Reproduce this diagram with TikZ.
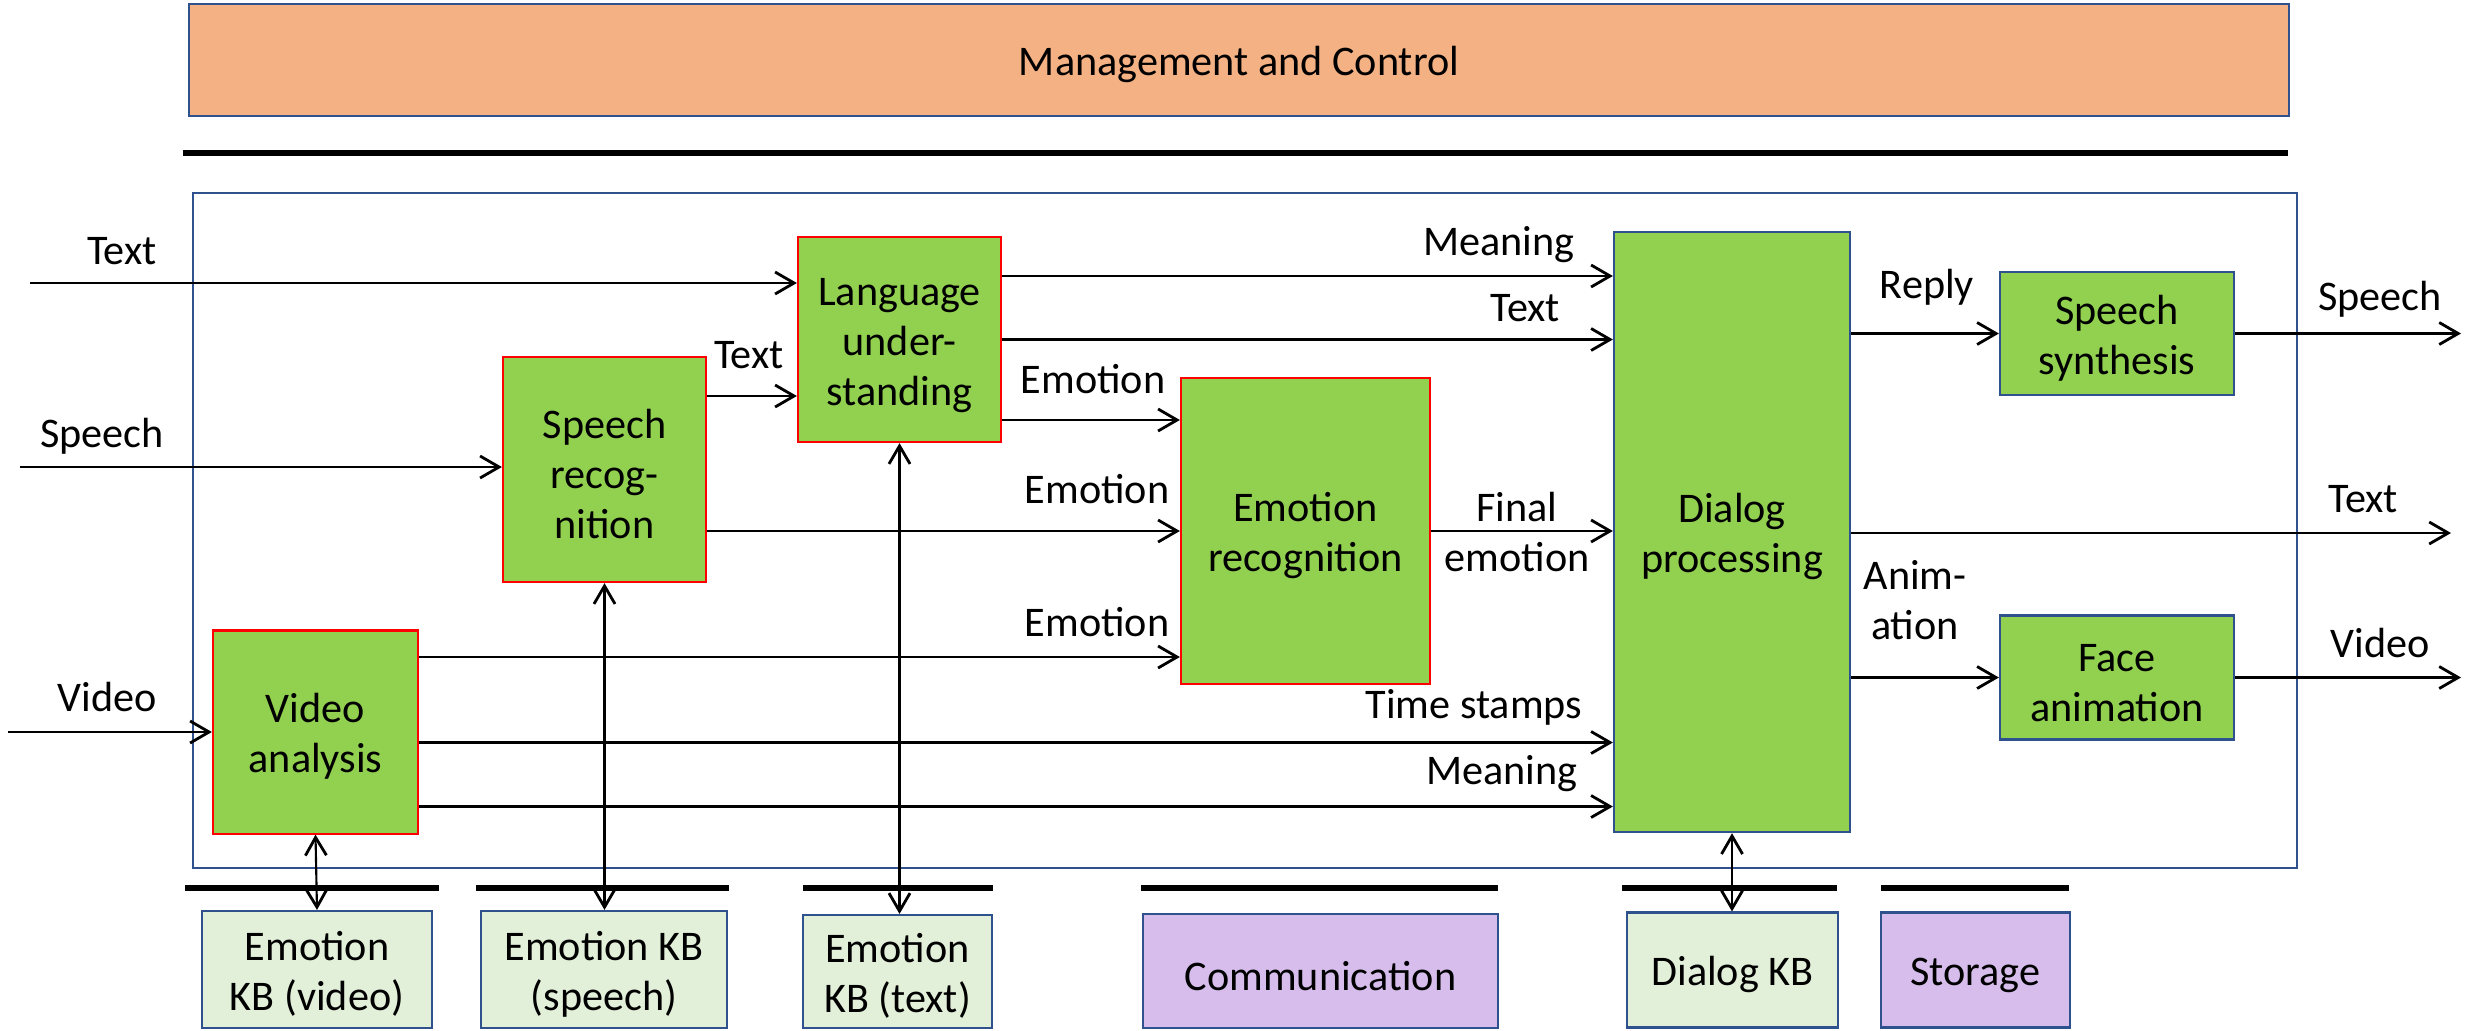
\documentclass[tikz,border=0pt]{standalone}
\usepackage{fontspec}
\setmainfont{Carlito}
\usetikzlibrary{arrows.meta}
\definecolor{boxgreen}{HTML}{92D050}
\definecolor{kbgreen}{HTML}{E2F0D9}
\definecolor{mgmtorange}{HTML}{F4B183}
\definecolor{svcpurple}{RGB}{215,189,236}
\definecolor{edgeblue}{RGB}{47,82,143}
\begin{document}
\begin{tikzpicture}[x=0.01cm,y=-0.01cm,
        font=\fontsize{12}{14.2}\selectfont,
        box/.style={draw=edgeblue,line width=0.6pt,fill=boxgreen,align=center,inner sep=0pt},
        redbox/.style={box,draw=red},
        kb/.style={box,fill=kbgreen},
        svc/.style={box,fill=svcpurple},
        oneline/.style={text height=11pt},
        twolines/.style={text height=25.2pt},
        threelines/.style={text height=39.4pt},
        flow/.style={line width=0.8pt,-{Straight Barb[length=1.9mm,width=2.2mm]}},
        link/.style={line width=0.6pt,{Straight Barb[length=1.8mm,width=2.1mm,line width=0.8pt]}-{Straight Barb[length=1.8mm,width=2.1mm,line width=0.8pt]}},
        bar/.style={line width=1.55pt},
        lbl/.style={inner sep=0pt,align=center}]
        \useasboundingbox (0,0) rectangle (2476,1030);
        \node[box,oneline,fill=mgmtorange,minimum width=20.98cm,minimum height=1.12cm] (mgmt) at (1239,60) {Management and Control};
        \draw[bar] (183,153) -- (2288,153);
        \draw[edgeblue,line width=0.6pt] (193,193) rectangle (2297,868);
        \node[redbox,threelines,minimum width=2.03cm,minimum height=2.05cm] (lang) at (899.5,339.5) {Language\\under-\\standing};
        \node[redbox,threelines,minimum width=2.03cm,minimum height=2.25cm] (srec) at (604.5,469.5) {Speech\\recog-\\nition};
        \node[redbox,twolines,minimum width=2.05cm,minimum height=2.03cm] (video) at (315.5,732) {Video\\analysis};
        \node[redbox,twolines,minimum width=2.49cm,minimum height=3.06cm] (erec) at (1305.5,531) {Emotion\\recognition};
        \node[box,twolines,minimum width=2.36cm,minimum height=6.00cm] (dialog) at (1732,532) {Dialog\\processing};
        \node[box,twolines,minimum width=2.34cm,minimum height=1.23cm] (synth) at (2117,333.5) {Speech\\synthesis};
        \node[box,twolines,minimum width=2.34cm,minimum height=1.24cm] (face) at (2117,677.5) {Face\\animation};
        \node[kb,twolines,minimum width=2.30cm,minimum height=1.17cm] (kbv) at (317,969.5) {Emotion\\KB (video)};
        \node[kb,twolines,minimum width=2.46cm,minimum height=1.17cm] (kbs) at (604,969.5) {Emotion KB\\(speech)};
        \node[kb,twolines,minimum width=1.89cm,minimum height=1.13cm] (kbt) at (897.5,971.5) {Emotion\\KB (text)};
        \node[svc,oneline,minimum width=3.55cm,minimum height=1.14cm] (comm) at (1320.5,971) {Communication};
        \node[kb,oneline,minimum width=2.11cm,minimum height=1.15cm] (dkb) at (1732.5,970) {Dialog KB};
        \node[svc,oneline,minimum width=1.89cm,minimum height=1.15cm] (stor) at (1975.5,970) {Storage};
        \foreach \a/\b in {185/439,476/729,803/993,1141/1498,1622/1837,1881/2069}
            \draw[bar] (\a,888) -- (\b,888);
        \coordinate (inText) at (30,283);
        \coordinate (inSpeech) at (20,467);
        \coordinate (inVideo) at (8,732);
        \coordinate (outSpeech) at (2461,333.5);
        \coordinate (outText) at (2451,533);
        \coordinate (outVideo) at (2461,677.5);
        \draw[flow] (inText) -- (inText -| lang.west);
        \draw[flow] (inSpeech) -- (inSpeech -| srec.west);
        \draw[flow] (inVideo) -- (video.west);
        \draw[flow] (srec.east |- 0,396) -- (lang.west |- 0,396);
        \draw[flow] (lang.east |- 0,276) -- (dialog.west |- 0,276);
        \draw[flow] (lang.east) -- (dialog.west |- lang.east);
        \draw[flow] (lang.east |- 0,420) -- (erec.west |- 0,420);
        \draw[flow] (srec.east |- erec.west) -- (erec.west);
        \draw[flow] (video.east |- 0,657) -- (erec.west |- 0,657);
        \draw[flow] (video.east |- 0,742.5) -- (dialog.west |- 0,742.5);
        \draw[flow] (video.east |- 0,806.5) -- (dialog.west |- 0,806.5);
        \draw[flow] (erec.east) -- (dialog.west |- erec.east);
        \draw[flow] (dialog.east |- synth.west) -- (synth.west);
        \draw[flow] (synth.east) -- (outSpeech);
        \draw[flow] (dialog.east |- outText) -- (outText);
        \draw[flow] (dialog.east |- face.west) -- (face.west);
        \draw[flow] (face.east) -- (outVideo);
        \draw[link] (video.south) -- (kbv.north);
        \draw[link] (srec.south) -- (srec.south |- kbs.north);
        \draw[link] (lang.south) -- (lang.south |- kbt.north);
        \draw[link] (dialog.south) -- (dialog.south |- dkb.north);
        \node[lbl] (lInText) at (122,251) {Text};
        \node[lbl] (lInSpeech) at (102,436) {Speech};
        \node[lbl] (lInVideo) at (107,697) {Video};
        \node[lbl] (lSrText) at (749,355) {Text};
        \node[lbl] (lMeanTop) at (1499,245) {Meaning};
        \node[lbl] (lTextTop) at (1525,308) {Text};
        \node[lbl] (lEmoLang) at (1093,379) {Emotion};
        \node[lbl] (lEmoSpeech) at (1097,489) {Emotion};
        \node[lbl] (lEmoVideo) at (1097,622) {Emotion};
        \node[lbl] (lFinal) at (1517,532) {Final\\emotion};
        \node[lbl] (lStamps) at (1474,707) {Time stamps};
        \node[lbl] (lMeanBot) at (1502,774) {Meaning};
        \node[lbl] (lReply) at (1927,287) {Reply};
        \node[lbl] (lAnim) at (1915,600) {Anim-\\ation};
        \node[lbl] (lOutSpeech) at (2380,299) {Speech};
        \node[lbl] (lOutText) at (2363,499) {Text};
        \node[lbl] (lOutVideo) at (2380,643) {Video};
\end{tikzpicture}
\end{document}
